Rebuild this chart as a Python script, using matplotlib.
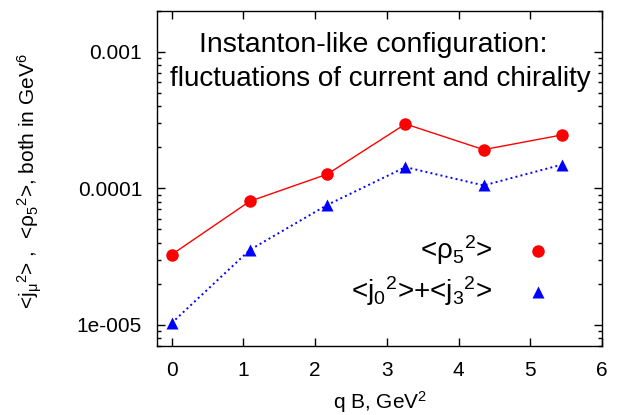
import matplotlib
matplotlib.use("Agg")
import matplotlib.pyplot as plt
from matplotlib.ticker import FixedLocator, FixedFormatter, LogLocator, NullFormatter

plt.rcParams['font.family'] = ['Liberation Sans', 'DejaVu Sans']
plt.rcParams['mathtext.fontset'] = 'custom'
plt.rcParams['mathtext.rm'] = 'Liberation Sans'
plt.rcParams['mathtext.it'] = 'Liberation Sans'

qB = [0.0, 1.09, 2.17, 3.26, 4.35, 5.44]
rho5_sq = [3.27e-5, 8.04e-5, 1.27e-4, 2.96e-4, 1.92e-4, 2.46e-4]
j_sq = [1.03e-5, 3.54e-5, 7.56e-5, 1.43e-4, 1.05e-4, 1.49e-4]
ytick_vals = [1e-5, 1e-4, 1e-3]
ytick_labels = ['1e-005', '0.0001', '0.001']
xtick_vals = [0, 1, 2, 3, 4, 5, 6]

L, R, T, B = 157.3, 602.0, 10.7, 346.0
fig = plt.figure(figsize=(6.23, 4.15), dpi=100)
ax = fig.add_axes([L/623, 1 - B/415, (R - L)/623, (B - T)/415])

ax.plot(qB, rho5_sq, '-', color='#ff0000', lw=1.0)
ax.plot(qB, rho5_sq, 'o', color='#ff0000', ms=9, mec='none')
ax.plot(qB, j_sq, ':', color='#0000ff', lw=1.4)
ax.plot(qB, j_sq, '^', color='#0000ff', ms=8.5, mec='none')

ax.set_yscale('log')
ax.set_xlim(-0.2, 6)
ax.set_ylim(7e-6, 2e-3)
ax.yaxis.set_major_locator(FixedLocator(ytick_vals))
ax.yaxis.set_major_formatter(FixedFormatter(ytick_labels))
ax.yaxis.set_minor_locator(LogLocator(base=10, subs=range(2, 10)))
ax.yaxis.set_minor_formatter(NullFormatter())
ax.set_xticks(xtick_vals)
ax.set_xticklabels([str(v) for v in xtick_vals])

ax.tick_params(which='both', direction='in', top=True, right=True, labelsize=15)
ax.tick_params(axis='x', pad=11)
ax.tick_params(axis='y', pad=11)
ax.tick_params(which='major', length=6, width=1)
ax.tick_params(which='minor', length=3, width=1)
for s in ax.spines.values():
    s.set_linewidth(1.0)

def px2ax(x, y):
    return ((x - L) / (R - L), (B - y) / (B - T))

tx, ty = px2ax(373, 45)
ax.text(tx, ty, 'Instanton-like configuration:', transform=ax.transAxes,
        ha='center', va='center', fontsize=20.5)
tx, ty = px2ax(380, 79)
ax.text(tx, ty, 'fluctuations of current and chirality', transform=ax.transAxes,
        ha='center', va='center', fontsize=20)

# legend (gnuplot style)
tx, ty = px2ax(492, 250)
ax.text(tx, ty, r'<ρ$_5$$^2$>', transform=ax.transAxes, ha='right', va='center', fontsize=20)
mx, my = px2ax(538, 251)
ax.plot([mx], [my], 'o', color='#ff0000', ms=9, mec='none', transform=ax.transAxes)
tx, ty = px2ax(492, 291)
ax.text(tx, ty, r'<j$_0$$^2$>+<j$_3$$^2$>', transform=ax.transAxes, ha='right', va='center', fontsize=20)
mx, my = px2ax(538, 292)
ax.plot([mx], [my], '^', color='#0000ff', ms=8.5, mec='none', transform=ax.transAxes)

ax.set_xlabel(r'q B, GeV$^2$', fontsize=15)
ax.xaxis.set_label_coords(*px2ax(380, 402))
ax.xaxis.label.set_va('center')
ax.set_ylabel(r'<j$_μ$$^2$> ,  <ρ$_5$$^2$>, both in GeV$^6$', fontsize=15)
ax.yaxis.set_label_coords(*px2ax(30, 181))
ax.yaxis.label.set_va('center')

fig.savefig('out.png', dpi=100)
